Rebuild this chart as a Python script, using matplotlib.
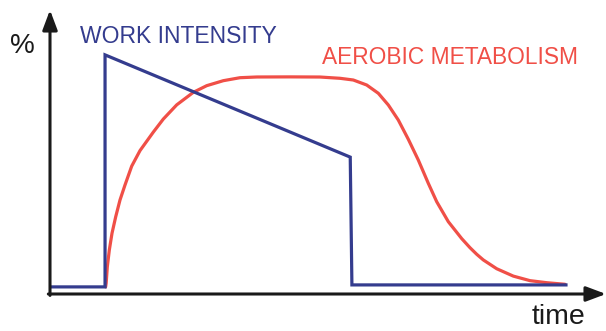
import matplotlib
matplotlib.use("Agg")
import matplotlib.pyplot as plt

# Work intensity (blue), time in arbitrary units 0-100, value in % 0-100
work_t = [0.3, 9.9, 9.9, 54.0, 54.3, 92.8]
work_p = [2.5, 2.5, 84.2, 48.2, 3.2, 3.2]

# Aerobic metabolism (red)
aero_t = [10.0, 10.1, 10.31, 10.67, 11.15, 11.82, 12.59, 13.49, 14.69, 16.19,
          18.58, 20.38, 22.79, 25.77, 28.18, 31.17, 34.17, 37.18, 43.2, 48.56,
          52.16, 54.55, 56.96, 59.05, 60.85, 62.64, 64.44, 66.24, 68.04, 69.55,
          71.64, 74.05, 75.54, 76.74, 77.93, 80.34, 83.33, 86.33, 89.33, 92.63]
aero_p = [2.5, 3.8, 9.61, 15.49, 21.37, 27.22, 33.10, 38.38, 45.0, 50.5,
          57.0, 61.6, 66.6, 71.0, 73.35, 75.11, 76.16, 76.41, 76.45, 76.4,
          75.95, 75.35, 73.59, 70.67, 66.55, 61.27, 54.5, 47.18, 38.98, 32.5,
          25.46, 19.5, 16.3, 14.0, 12.0, 8.9, 6.3, 4.7, 3.98, 3.42]

BLUE = "#343c8e"
RED = "#f04f47"

plt.rcParams["font.family"] = ["Liberation Sans", "DejaVu Sans"]

fig = plt.figure(figsize=(6.06, 3.31), dpi=100)
ax = fig.add_axes([50 / 606, 37 / 331, 556 / 606, 284 / 331])
ax.set_xlim(0, 100)
ax.set_ylim(0, 100)
for s in ax.spines.values():
    s.set_visible(False)
ax.set_xticks([])
ax.set_yticks([])

ax.plot(aero_t, aero_p, color=RED, lw=2.3, solid_joinstyle="round", solid_capstyle="round")
ax.plot(work_t, work_p, color=BLUE, lw=2.3, solid_joinstyle="miter")

# axes with arrow heads
arrow = dict(arrowstyle="-|>,head_length=1.2,head_width=0.45", lw=2.2, color="#1a1a1a",
             shrinkA=0, shrinkB=0, mutation_scale=10)
ax.annotate("", xy=(0, 1.0), xytext=(0, -0.005), xycoords="axes fraction",
            arrowprops=arrow, annotation_clip=False)
ax.annotate("", xy=(1.0, 0), xytext=(-0.003, 0), xycoords="axes fraction",
            arrowprops=arrow, annotation_clip=False)

ax.text(-0.072, 0.85, "%", transform=ax.transAxes, fontsize=20, va="baseline", color="#1a1a1a")
ax.text(0.867, -0.107, "time", transform=ax.transAxes, fontsize=20.5, va="baseline", color="#1a1a1a")
ax.text(0.054, 0.884, "WORK INTENSITY", transform=ax.transAxes, fontsize=16.5,
        va="baseline", color=BLUE)
ax.text(0.489, 0.810, "AEROBIC METABOLISM", transform=ax.transAxes, fontsize=16.4,
        va="baseline", color=RED)

fig.savefig("out.png", dpi=100)
